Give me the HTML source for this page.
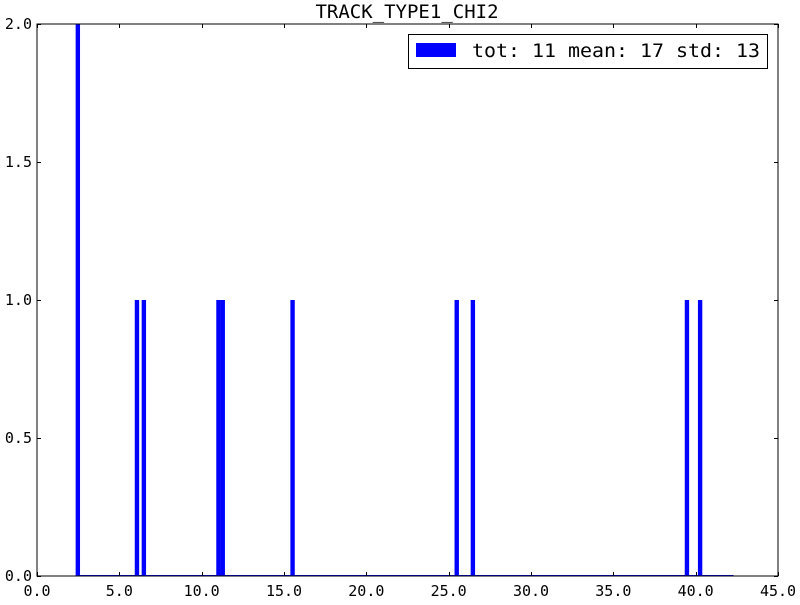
<!DOCTYPE html>
<html><head><meta charset="utf-8"><style>
body{margin:0;background:#fff;}
svg text{font-family:"DejaVu Sans Mono","Liberation Mono",monospace;fill:#000;}
</style></head><body>
<svg id="chart" width="800" height="600">
<rect x="0" y="0" width="800" height="600" fill="#fff"/>
<text x="407" y="18" font-size="19" text-anchor="middle">TRACK_TYPE1_CHI2</text>
<g id="bars"></g>
<rect x="37" y="24" width="741" height="552" fill="none" stroke="#000" stroke-width="1"/>
<g id="xticks"></g>
<g id="yticks"></g>
<g>
<rect x="408.5" y="34.5" width="359" height="34" fill="#fff" stroke="#000"/>
<rect x="416" y="43" width="40" height="14" fill="#0000ff"/>
<text x="472" y="57" font-size="19" textLength="288" lengthAdjust="spacingAndGlyphs">tot: 11 mean: 17 std: 13</text>
</g>
</svg>
<script>
const binCenters=[2.48,6.07,6.49,11.02,11.28,15.52,25.49,26.47,39.47,40.27];
const counts=[2,1,1,1,1,1,1,1,1,1];
const xTicks=[0,5,10,15,20,25,30,35,40,45];
const yTicks=[0,0.5,1.0,1.5,2.0];
const binWidth=0.266;
const histMin=2.35, histMax=42.3;
const X0=37,X1=778,Y0=576,Y1=24;
const sx=v=>X0+(v-0)/(45-0)*(X1-X0);
const sy=v=>Y0-(v-0)/(2-0)*(Y0-Y1);
const NS="http://www.w3.org/2000/svg";
const bars=document.getElementById('bars');
const base=document.createElementNS(NS,'line');
base.setAttribute('x1',sx(histMin));base.setAttribute('x2',sx(histMax));
base.setAttribute('y1',Y0-0.5);base.setAttribute('y2',Y0-0.5);
base.setAttribute('stroke','#0000ff');base.setAttribute('stroke-width','1');


bars.appendChild(base);
binCenters.forEach((c,i)=>{
 const r=document.createElementNS(NS,'rect');
 const x=sx(c-binWidth/2), w=sx(c+binWidth/2)-x;
 r.setAttribute('x',x);r.setAttribute('width',w);
 r.setAttribute('y',sy(counts[i]));r.setAttribute('height',sy(0)-sy(counts[i]));
 r.setAttribute('fill','#0000ff');
 
 
 bars.appendChild(r);
});
const xg=document.getElementById('xticks');
xTicks.forEach(t=>{
 const x=Math.round(sx(t))+0.5;
 [[Y0,Y0-4],[Y1,Y1+4]].forEach(([a,b])=>{
  const l=document.createElementNS(NS,'line');
  l.setAttribute('x1',x);l.setAttribute('x2',x);l.setAttribute('y1',a);l.setAttribute('y2',b);
  l.setAttribute('stroke','#000');
  
  
  xg.appendChild(l);
 });
 const tx=document.createElementNS(NS,'text');
 tx.setAttribute('x',sx(t));tx.setAttribute('y',596);tx.setAttribute('font-size','15');
 tx.setAttribute('text-anchor','middle');tx.textContent=t.toFixed(1);
 
 
 xg.appendChild(tx);
});
const yg=document.getElementById('yticks');
yTicks.forEach(t=>{
 const y=Math.round(sy(t))+0.5;
 [[X0,X0+4],[X1,X1-4]].forEach(([a,b])=>{
  const l=document.createElementNS(NS,'line');
  l.setAttribute('x1',a);l.setAttribute('x2',b);l.setAttribute('y1',y);l.setAttribute('y2',y);
  l.setAttribute('stroke','#000');
  
  
  yg.appendChild(l);
 });
 const tx=document.createElementNS(NS,'text');
 tx.setAttribute('x',32);tx.setAttribute('y',sy(t)+5);tx.setAttribute('font-size','15');
 tx.setAttribute('text-anchor','end');tx.textContent=t.toFixed(1);
 
 
 yg.appendChild(tx);
});
</script>
</body></html>
